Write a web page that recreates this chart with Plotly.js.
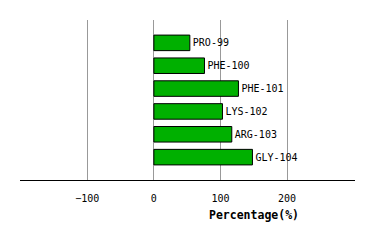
<!DOCTYPE html>
<html><head><meta charset="utf-8">
<script src="https://cdn.plot.ly/plotly-3.0.1.min.js"></script>
<style>html,body{margin:0;padding:0;background:#fff}</style>
</head><body><div id="chart" style="width:374px;height:240px"></div>
<script>
const residues = ["PRO-99","PHE-100","PHE-101","LYS-102","ARG-103","GLY-104"];
const percentages = [54, 76, 127, 103, 117, 148];
const tickValues = [-100, 0, 100, 200];
const tickLabels = ["\u2212100", "0", "100", "200"];

const font = "DejaVu Sans Mono, Liberation Mono, monospace";
Plotly.newPlot("chart", [{
  type: "bar",
  orientation: "h",
  x: percentages,
  y: residues.map((_, i) => i),
  text: residues,
  textposition: "outside",
  cliponaxis: false,
  textfont: {family: font, size: 10, color: "#000"},
  width: 0.68,
  marker: {color: "#00b000", line: {color: "#000", width: 1}},
  hoverinfo: "none"
}], {
  width: 374, height: 240,
  margin: {l: 20, r: 19, t: 20, b: 60},
  paper_bgcolor: "#fff", plot_bgcolor: "#fff",
  showlegend: false,
  xaxis: {
    range: [-201, 302],
    tickvals: tickValues, ticktext: tickLabels,
    ticks: "outside", ticklen: 9, tickcolor: "rgba(0,0,0,0)",
    tickfont: {family: font, size: 10, color: "#000"},
    showgrid: true, gridcolor: "#999", gridwidth: 1,
    zeroline: false,
    showline: true, linecolor: "#000", linewidth: 1,
    fixedrange: true
  },
  yaxis: {
    range: [6, -1],
    showticklabels: false, showgrid: false, zeroline: false, showline: false,
    ticks: "", fixedrange: true
  },
  annotations: [{
    text: "<b>Percentage(%)</b>", xref: "paper", yref: "paper",
    x: 0.70, y: -0.22, xanchor: "center", yanchor: "middle", showarrow: false,
    font: {family: font, size: 11.5, color: "#000"}
  }]
}, {staticPlot: true});
</script></body></html>
